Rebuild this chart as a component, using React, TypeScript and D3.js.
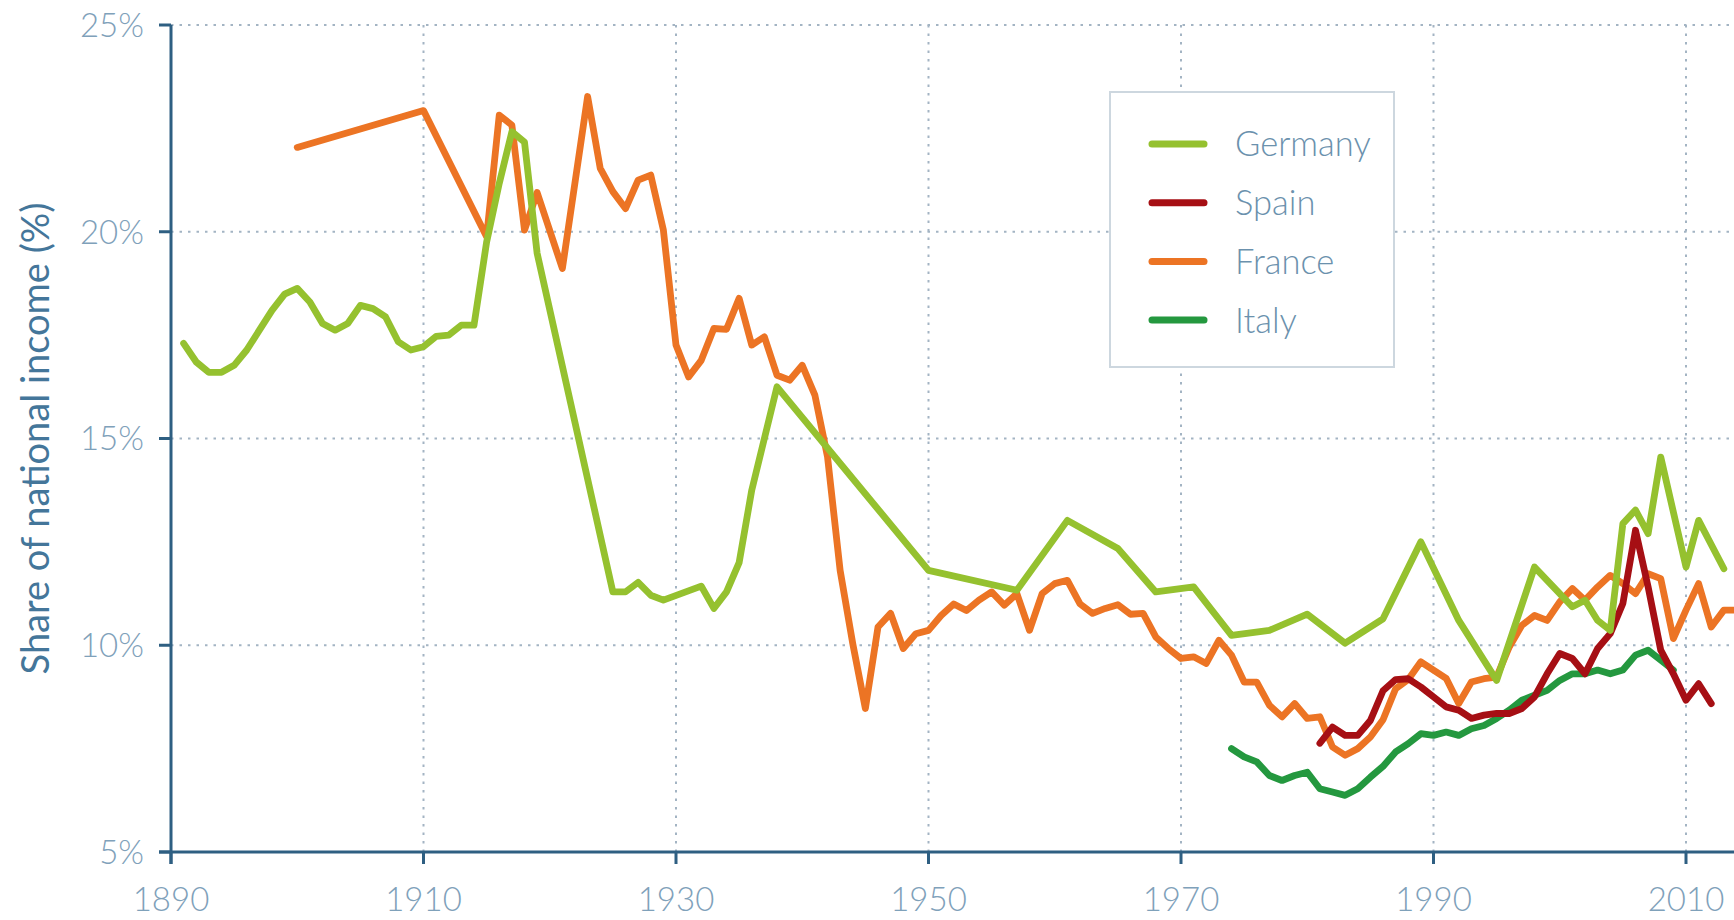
import React, { useEffect, useRef } from 'react';
import * as d3 from 'd3';

type Point = [number, number]; // [year, share of national income %]

const germany: Point[] = [
  [1891, 17.3], [1892, 16.85], [1893, 16.6], [1894, 16.6], [1895, 16.77], [1896, 17.14],
  [1897, 17.62], [1898, 18.1], [1899, 18.49], [1900, 18.63], [1901, 18.3], [1902, 17.78],
  [1903, 17.62], [1904, 17.78], [1905, 18.22], [1906, 18.14], [1907, 17.94], [1908, 17.34],
  [1909, 17.14], [1910, 17.22], [1911, 17.47], [1912, 17.5], [1913, 17.74], [1914, 17.74],
  [1915, 19.75], [1916, 21.17], [1917, 22.42], [1918, 22.17], [1919, 19.48], [1925, 11.29],
  [1926, 11.29], [1927, 11.52], [1928, 11.21], [1929, 11.09], [1932, 11.43], [1933, 10.89],
  [1934, 11.29], [1935, 12.0], [1936, 13.75], [1938, 16.25], [1950, 11.81], [1957, 11.33],
  [1961, 13.02], [1965, 12.34], [1968, 11.29], [1971, 11.41], [1974, 10.24], [1977, 10.36],
  [1980, 10.75], [1983, 10.05], [1986, 10.64], [1989, 12.5], [1992, 10.6], [1995, 9.15],
  [1998, 11.89], [2001, 10.93], [2002, 11.09], [2003, 10.6], [2004, 10.36], [2005, 12.94],
  [2006, 13.27], [2007, 12.7], [2008, 14.55], [2010, 11.89], [2011, 13.02], [2013, 11.85],
];

const spain: Point[] = [
  [1981, 7.63], [1982, 8.02], [1983, 7.82], [1984, 7.82], [1985, 8.18], [1986, 8.9],
  [1987, 9.17], [1988, 9.19], [1989, 8.99], [1990, 8.75], [1991, 8.51], [1992, 8.43],
  [1993, 8.23], [1994, 8.31], [1995, 8.35], [1996, 8.35], [1997, 8.47], [1998, 8.75],
  [1999, 9.31], [2000, 9.8], [2001, 9.68], [2002, 9.31], [2003, 9.92], [2004, 10.28],
  [2005, 11.01], [2006, 12.78], [2007, 11.41], [2008, 9.88], [2009, 9.31], [2010, 8.67],
  [2011, 9.07], [2012, 8.59],
];

const france: Point[] = [
  [1900, 22.04], [1910, 22.93], [1915, 19.88], [1916, 22.82], [1917, 22.58], [1918, 20.04],
  [1919, 20.95], [1921, 19.11], [1923, 23.27], [1924, 21.53], [1925, 20.97], [1926, 20.56],
  [1927, 21.25], [1928, 21.37], [1929, 20.04], [1930, 17.26], [1931, 16.49], [1932, 16.89],
  [1933, 17.66], [1934, 17.64], [1935, 18.39], [1936, 17.26], [1937, 17.46], [1938, 16.53],
  [1939, 16.41], [1940, 16.77], [1941, 16.05], [1942, 14.56], [1943, 11.81], [1944, 10.04],
  [1945, 8.47], [1946, 10.44], [1947, 10.77], [1948, 9.92], [1949, 10.28], [1950, 10.36],
  [1951, 10.72], [1952, 11.0], [1953, 10.84], [1954, 11.09], [1955, 11.29], [1956, 10.97],
  [1957, 11.25], [1958, 10.36], [1959, 11.25], [1960, 11.49], [1961, 11.57], [1962, 11.0],
  [1963, 10.77], [1964, 10.89], [1965, 10.98], [1966, 10.75], [1967, 10.77], [1968, 10.2],
  [1969, 9.92], [1970, 9.68], [1971, 9.72], [1972, 9.56], [1973, 10.12], [1974, 9.76],
  [1975, 9.11], [1976, 9.11], [1977, 8.55], [1978, 8.27], [1979, 8.59], [1980, 8.23],
  [1981, 8.27], [1982, 7.54], [1983, 7.34], [1984, 7.5], [1985, 7.78], [1986, 8.2],
  [1987, 8.95], [1988, 9.17], [1989, 9.6], [1990, 9.4], [1991, 9.2], [1992, 8.59],
  [1993, 9.11], [1994, 9.19], [1995, 9.23], [1996, 9.96], [1997, 10.48], [1998, 10.72],
  [1999, 10.6], [2000, 11.05], [2001, 11.37], [2002, 11.09], [2003, 11.41], [2004, 11.69],
  [2005, 11.49], [2006, 11.25], [2007, 11.73], [2008, 11.61], [2009, 10.16], [2010, 10.85],
  [2011, 11.49], [2012, 10.44], [2013, 10.85], [2014, 10.85],
];

const italy: Point[] = [
  [1974, 7.5], [1975, 7.3], [1976, 7.18], [1977, 6.85], [1978, 6.73], [1979, 6.85],
  [1980, 6.93], [1981, 6.53], [1982, 6.45], [1983, 6.37], [1984, 6.53], [1985, 6.81],
  [1986, 7.07], [1987, 7.42], [1988, 7.62], [1989, 7.86], [1990, 7.82], [1991, 7.9],
  [1992, 7.82], [1993, 7.98], [1994, 8.06], [1995, 8.23], [1996, 8.43], [1997, 8.67],
  [1998, 8.79], [1999, 8.91], [2000, 9.15], [2001, 9.31], [2002, 9.31], [2003, 9.4],
  [2004, 9.31], [2005, 9.4], [2006, 9.76], [2007, 9.88], [2008, 9.64], [2009, 9.4],
];

const xTicks = [1890, 1910, 1930, 1950, 1970, 1990, 2010];
const yTicks = [5, 10, 15, 20, 25];

// legend order
const series = [
  { name: 'Germany', color: '#95c12f', data: germany },
  { name: 'Spain', color: '#a60f14', data: spain },
  { name: 'France', color: '#ec7424', data: france },
  { name: 'Italy', color: '#24983f', data: italy },
];
// paint order (back to front)
const drawOrder = ['France', 'Italy', 'Spain', 'Germany'];

const W = 1734;
const H = 920;

const Chart: React.FC = () => {
  const svgRef = useRef<SVGSVGElement>(null);

  useEffect(() => {
    if (!svgRef.current) return;
    const svg = d3.select(svgRef.current);
    svg.selectAll('*').remove();

    const left = 171;
    const top = 25;
    const bottom = 852;

    const x = d3.scaleLinear().domain([1890, 2010]).range([left, 1686]);
    const y = d3.scaleLinear().domain([5, 25]).range([bottom, top]);

    const font = 'Lato, "Noto Sans", sans-serif';
    const axisColor = '#2e5f82';
    const gridColor = '#a3b4c3';
    const labelColor = '#7fa1ba';

    // grid
    const grid = svg.append('g');
    xTicks.forEach(t => {
      grid.append('line')
        .attr('x1', x(t)).attr('x2', x(t))
        .attr('y1', top).attr('y2', bottom)
        .style('stroke', gridColor)
        .style('stroke-width', 2)
        .style('stroke-dasharray', '2.5,6');
    });
    yTicks.forEach(t => {
      grid.append('line')
        .attr('x1', left).attr('x2', W)
        .attr('y1', y(t)).attr('y2', y(t))
        .style('stroke', gridColor)
        .style('stroke-width', 2)
        .style('stroke-dasharray', '2.5,6');
    });

    // lines
    const line = d3.line<Point>()
      .x(d => x(d[0]))
      .y(d => y(d[1]));

    drawOrder.forEach(name => {
      const s = series.find(d => d.name === name)!;
      svg.append('path')
        .datum(s.data)
        .attr('d', line)
        .style('fill', 'none')
        .style('stroke', s.color)
        .style('stroke-width', 6.8)
        .style('stroke-linejoin', 'round')
        .style('stroke-linecap', 'round');
    });

    // axes
    const axes = svg.append('g');
    axes.append('line')
      .attr('x1', left).attr('x2', left)
      .attr('y1', top).attr('y2', bottom + 12)
      .style('stroke', axisColor).style('stroke-width', 3);
    axes.append('line')
      .attr('x1', left - 12).attr('x2', W)
      .attr('y1', bottom).attr('y2', bottom)
      .style('stroke', axisColor).style('stroke-width', 3);

    yTicks.forEach(t => {
      axes.append('line')
        .attr('x1', left - 12).attr('x2', left)
        .attr('y1', y(t)).attr('y2', y(t))
        .style('stroke', axisColor).style('stroke-width', 3);
      axes.append('text')
        .attr('x', left - 27)
        .attr('y', y(t))
        .attr('dy', '0.36em')
        .attr('text-anchor', 'end')
        .style('font-family', font)
        .style('font-weight', 300)
        .style('font-size', '33px')
        .style('fill', labelColor)
        .text(`${t}%`);
    });

    xTicks.forEach(t => {
      axes.append('line')
        .attr('x1', x(t)).attr('x2', x(t))
        .attr('y1', bottom).attr('y2', bottom + 12)
        .style('stroke', axisColor).style('stroke-width', 3);
      axes.append('text')
        .attr('x', x(t))
        .attr('y', 911)
        .attr('text-anchor', 'middle')
        .style('font-family', font)
        .style('font-weight', 300)
        .style('font-size', '33px')
        .style('fill', labelColor)
        .text(String(t));
    });

    // y title
    svg.append('text')
      .attr('transform', `translate(49,${(top + bottom) / 2}) rotate(-90)`)
      .attr('text-anchor', 'middle')
      .style('font-family', font)
      .style('font-size', '38px')
      .style('fill', '#44769a')
      .text('Share of national income (%)');

    // legend
    const lg = svg.append('g');
    lg.append('rect')
      .attr('x', 1110).attr('y', 92)
      .attr('width', 284).attr('height', 275)
      .style('fill', '#fff')
      .style('stroke', '#cdd7df')
      .style('stroke-width', 2);
    series.forEach((s, i) => {
      const ly = 144 + i * 58.7;
      lg.append('line')
        .attr('x1', 1152).attr('x2', 1204)
        .attr('y1', ly).attr('y2', ly)
        .style('stroke', s.color)
        .style('stroke-width', 7)
        .style('stroke-linecap', 'round');
      lg.append('text')
        .attr('x', 1235)
        .attr('y', ly)
        .attr('dy', '0.36em')
        .style('font-family', font)
        .style('font-weight', 300)
        .style('font-size', '34.5px')
        .style('fill', '#6b91ad')
        .text(s.name);
    });
  }, []);

  return <svg ref={svgRef} width={W} height={H} style={{ display: 'block' }} />;
};

export default function App() {
  return (
    <div style={{ position: 'absolute', left: 0, top: 0, background: '#fff' }}>
      <Chart />
    </div>
  );
}
